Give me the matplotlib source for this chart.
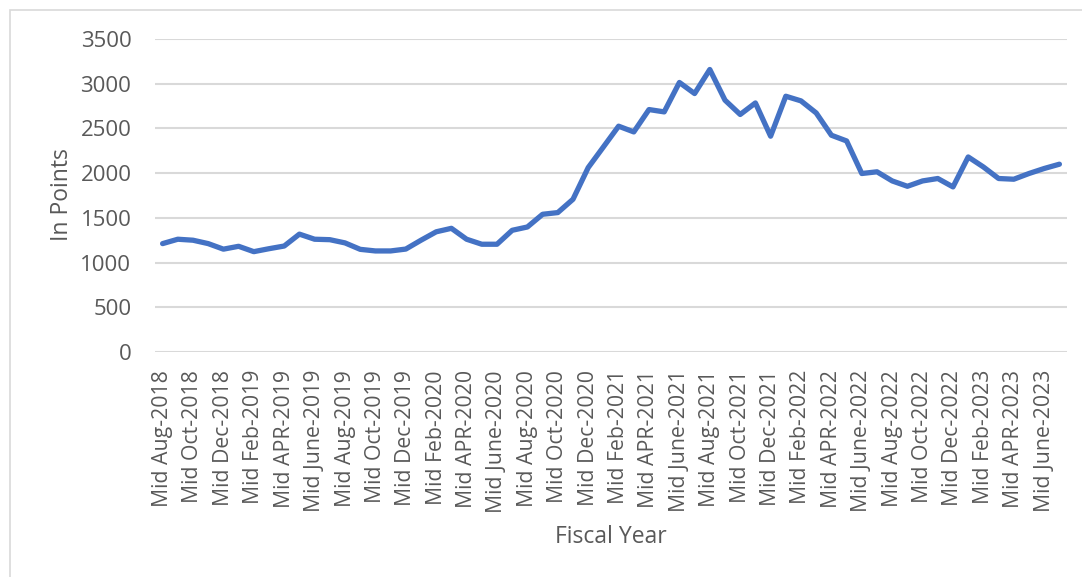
import matplotlib
matplotlib.use("Agg")
import matplotlib.pyplot as plt
from matplotlib.patches import Rectangle

# Monthly index values, Mid Aug-2018 .. Mid Jul-2023
months = [
    "Aug-2018", "Sep-2018", "Oct-2018", "Nov-2018", "Dec-2018",
    "Jan-2019", "Feb-2019", "Mar-2019", "APR-2019", "May-2019", "June-2019", "Jul-2019",
    "Aug-2019", "Sep-2019", "Oct-2019", "Nov-2019", "Dec-2019",
    "Jan-2020", "Feb-2020", "Mar-2020", "APR-2020", "May-2020", "June-2020", "Jul-2020",
    "Aug-2020", "Sep-2020", "Oct-2020", "Nov-2020", "Dec-2020",
    "Jan-2021", "Feb-2021", "Mar-2021", "APR-2021", "May-2021", "June-2021", "Jul-2021",
    "Aug-2021", "Sep-2021", "Oct-2021", "Nov-2021", "Dec-2021",
    "Jan-2022", "Feb-2022", "Mar-2022", "APR-2022", "May-2022", "June-2022", "Jul-2022",
    "Aug-2022", "Sep-2022", "Oct-2022", "Nov-2022", "Dec-2022",
    "Jan-2023", "Feb-2023", "Mar-2023", "APR-2023", "May-2023", "June-2023", "Jul-2023",
]
points = [
    1212, 1261, 1250, 1212, 1150,
    1182, 1122, 1155, 1185, 1318, 1261, 1256,
    1220, 1148, 1130, 1130, 1151,
    1250, 1344, 1383, 1261, 1205, 1205, 1361,
    1398, 1540, 1559, 1708, 2062,
    2293, 2525, 2461, 2711, 2685, 3014, 2890,
    3159, 2816, 2656, 2785, 2413,
    2860, 2808, 2673, 2424, 2360, 1996, 2015,
    1913, 1853, 1913, 1940, 1846,
    2181, 2069, 1940, 1932, 1996, 2052, 2100,
]
y_ticks = [0, 500, 1000, 1500, 2000, 2500, 3000, 3500]

label_color = "#595959"
line_color = "#4472C4"
grid_color = "#d9d9d9"
font = "Open Sans"

fig = plt.figure(figsize=(10.82, 5.77), dpi=100)
W, H = 1082, 577

# thin chart-area frame
fig.patches.append(Rectangle((10 / W, -0.05), 1.1, 1 - 10 / H + 0.05,
                             transform=fig.transFigure, fill=False,
                             edgecolor="#d9d9d9", linewidth=1.2))

ax = fig.add_axes([155 / W, 1 - 352 / H, (1067 - 155) / W, (352 - 39) / H])
x = list(range(len(months)))
ax.plot(x, points, color=line_color, linewidth=3.8, solid_joinstyle="round",
        solid_capstyle="round", zorder=3)

ax.set_xlim(-0.5, len(months) - 0.5)
ax.set_ylim(0, 3500)
ax.set_yticks(y_ticks)
ax.set_yticklabels([str(v) for v in y_ticks], fontfamily=font, fontsize=16,
                   color=label_color)
ax.set_xticks(x[::2])
ax.set_xticklabels(["Mid " + m for m in months[::2]], rotation=90,
                   fontfamily=font, fontsize=15.3, color=label_color,
                   ha="center", va="top")
ax.tick_params(axis="both", length=0)
ax.tick_params(axis="y", pad=17)
ax.tick_params(axis="x", pad=13)
ax.grid(axis="y", color=grid_color, linewidth=1.5, zorder=0)
ax.set_axisbelow(True)
for s in ax.spines.values():
    s.set_visible(False)

fig.text(62 / W, 1 - 195 / H, "In Points", rotation=90, ha="center", va="center",
         fontfamily=font, fontsize=16.5, color=label_color)
fig.text(611 / W, 1 - 537 / H, "Fiscal Year", ha="center", va="center",
         fontfamily=font, fontsize=16.5, color=label_color)

fig.savefig("out.png", dpi=100)
